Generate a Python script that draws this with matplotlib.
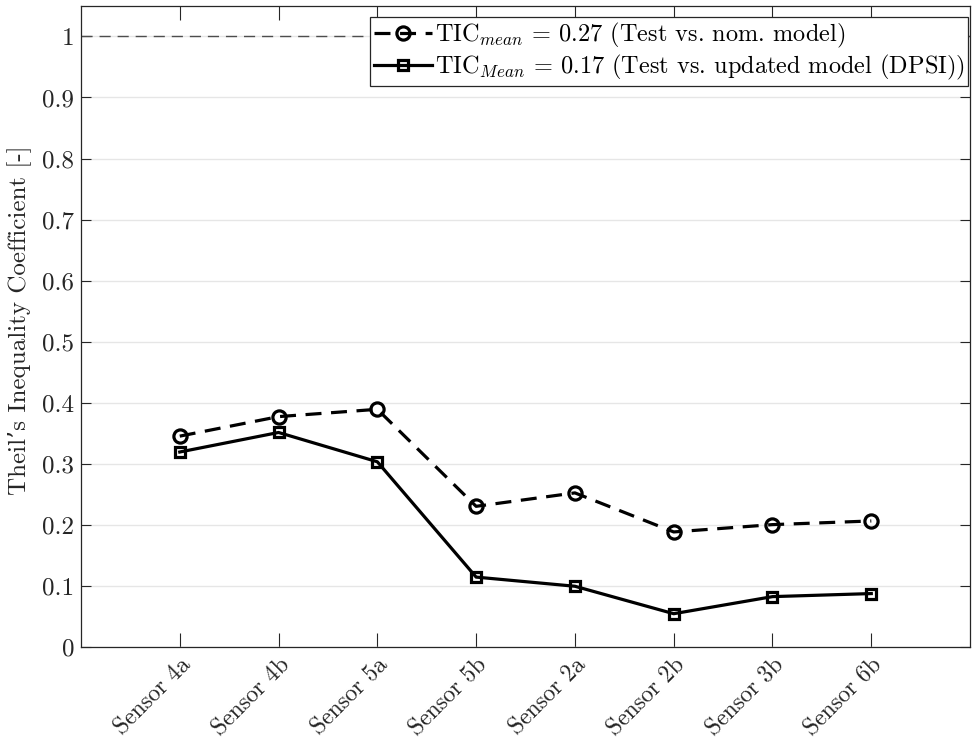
import matplotlib
matplotlib.use('Agg')
import matplotlib.pyplot as plt
from matplotlib import rcParams

# data
sensors = ['Sensor 4a', 'Sensor 4b', 'Sensor 5a', 'Sensor 5b',
           'Sensor 2a', 'Sensor 2b', 'Sensor 3b', 'Sensor 6b']
tic_nominal = [0.345, 0.377, 0.389, 0.230, 0.252, 0.188, 0.200, 0.206]
tic_updated = [0.319, 0.351, 0.303, 0.114, 0.099, 0.054, 0.082, 0.087]
label_nominal = r'TIC$_{mean}$ = 0.27 (Test vs. nom. model)'
label_updated = r'TIC$_{Mean}$ = 0.17 (Test vs. updated model (DPSI))'
y_ticks = [0, 0.1, 0.2, 0.3, 0.4, 0.5, 0.6, 0.7, 0.8, 0.9, 1]
y_ticklabels = ['0', '0.1', '0.2', '0.3', '0.4', '0.5', '0.6', '0.7', '0.8', '0.9', '1']

# font settings (computer modern look)
rcParams['font.family'] = ['cmr10', 'DejaVu Serif']
rcParams['mathtext.fontset'] = 'cm'
rcParams['axes.unicode_minus'] = False
rcParams['axes.formatter.use_mathtext'] = True

axis_col = '#262626'

fig = plt.figure(figsize=(9.73, 7.45), dpi=100)
ax = fig.add_axes([0.0832, 0.132, 0.9138, 0.86])

x = list(range(1, len(sensors) + 1))

# reference line at 1
ax.plot([0, 9], [1, 1], '--', color='#4d4d4d', lw=1.0, dashes=(8, 5), zorder=1)

ax.plot(x, tic_nominal, '--', color='k', lw=2.3, dashes=(5, 3),
        marker='o', ms=9.5, mfc='none', mew=2.3, label=label_nominal, zorder=3)
ax.plot(x, tic_updated, '-', color='k', lw=2.3,
        marker='s', ms=7.5, mfc='none', mew=2.3, label=label_updated, zorder=3)

ax.set_xlim(0, 9)
ax.set_ylim(0, 1.05)
ax.set_xticks(x)
ax.set_xticklabels(sensors, rotation=45, ha='right', rotation_mode='anchor', fontsize=17)
ax.set_yticks(y_ticks)
ax.set_yticklabels(y_ticklabels, fontsize=18)
ax.set_ylabel("Theil\u2019s Inequality Coefficient [-]", fontsize=18, color=axis_col)
ax.yaxis.set_label_coords(-0.055, 0.51)

ax.grid(axis='y', color='#e6e6e6', lw=1.0, zorder=0)
ax.set_axisbelow(True)
ax.tick_params(direction='in', length=10, width=0.8, colors=axis_col,
               top=True, right=True, pad=5)
ax.tick_params(axis='y', length=7, pad=5)
for sp in ax.spines.values():
    sp.set_color(axis_col)
    sp.set_linewidth(0.9)

leg = ax.legend(loc='upper right', bbox_to_anchor=(0.998, 0.983), borderaxespad=0,
                fontsize=17.5, frameon=True, fancybox=False,
                borderpad=0.15, handlelength=2.4, handletextpad=0.1,
                labelspacing=0.15)
leg.get_frame().set_edgecolor(axis_col)
leg.get_frame().set_linewidth(0.9)
leg.get_frame().set_alpha(1)

fig.savefig('out.png', dpi=100)
